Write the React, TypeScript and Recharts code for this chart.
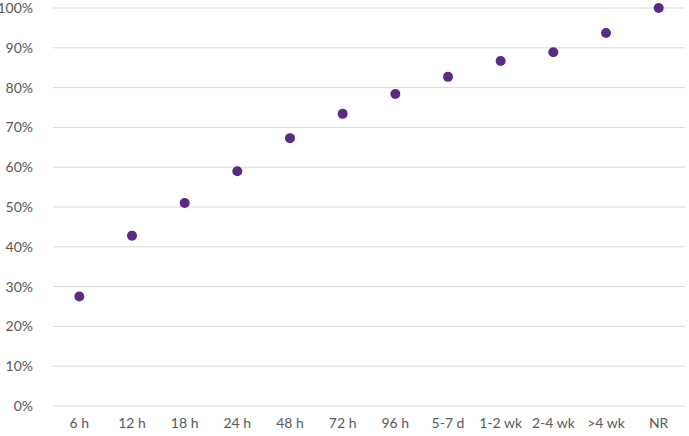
import { ComposedChart, Line, XAxis, YAxis, CartesianGrid } from 'recharts';

const categories = ['6 h', '12 h', '18 h', '24 h', '48 h', '72 h', '96 h', '5-7 d', '1-2 wk', '2-4 wk', '>4 wk', 'NR'];
const cumulative = [0.275, 0.428, 0.51, 0.59, 0.673, 0.734, 0.784, 0.827, 0.867, 0.889, 0.937, 1.0];
const yTicks = [0, 0.1, 0.2, 0.3, 0.4, 0.5, 0.6, 0.7, 0.8, 0.9, 1.0];

const data = categories.map((cat, i) => ({ cat, value: cumulative[i] }));

const tickStyle = { fill: '#595959', fontSize: 14, fontFamily: 'Lato, "Open Sans", sans-serif' };

const App = () => {
  return (
    <div style={{ position: 'absolute', left: 0, top: 0, background: '#fff' }}>
      <ComposedChart width={689} height={436} data={data} margin={{ top: 8, right: 4, bottom: 0, left: 0 }}>
        <CartesianGrid vertical={false} stroke="#d9d9d9" strokeWidth={1} />
        <XAxis
          dataKey="cat"
          type="category"
          scale="band"
          axisLine={false}
          tickLine={false}
          height={30}
          tick={tickStyle}
          tickMargin={6}
          interval={0}
        />
        <YAxis
          domain={[0, 1]}
          ticks={yTicks}
          width={53}
          axisLine={false}
          tickLine={false}
          tick={tickStyle}
          tickMargin={14}
          tickFormatter={(v: number) => `${Math.round(v * 100)}%`}
        />
        <Line
          dataKey="value"
          stroke="none"
          dot={{ r: 5, fill: '#5b2a84', stroke: 'none' }}
          activeDot={false}
          isAnimationActive={false}
        />
      </ComposedChart>
    </div>
  );
};

export default App;
